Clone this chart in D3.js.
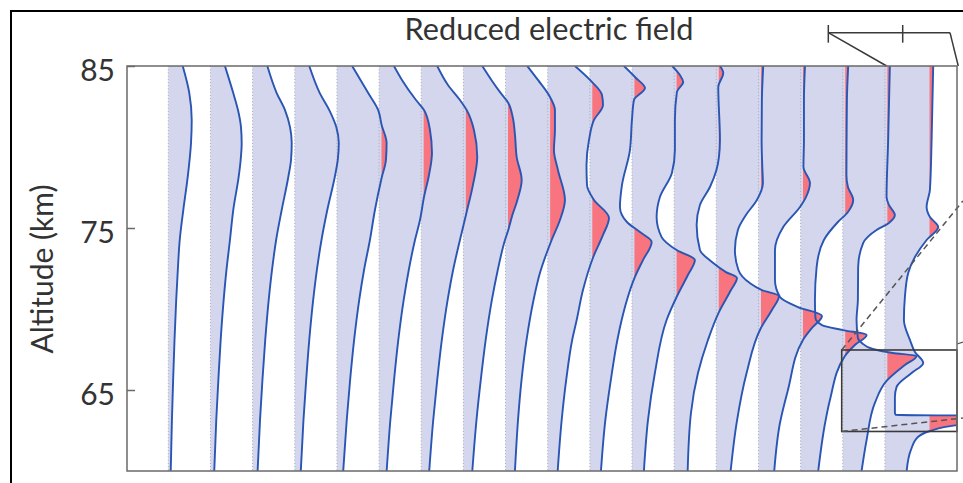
<!DOCTYPE html>
<html><head><meta charset="utf-8">
<script src="https://cdn.jsdelivr.net/npm/d3@7"></script>
<style>body{margin:0;background:#fff;} svg{display:block;}</style>
</head><body>
<svg id="chart" width="963" height="483"></svg>
<script>
// ---------------- data ----------------
const titleText = "Reduced electric field";
const yLabelText = "Altitude (km)";
const yTickValues = [65, 75, 85];
const altitudeDomain = [60, 85];
const breakdownField = 1;          // E / Ek  (red where exceeded)

// each profile: [altitude (km), reduced field E/Ek], one profile per time step
const profile00 = [[85,0.323],[83.33,0.471],[81.67,0.525],[80.25,0.509],[78.15,0.435],[76.11,0.336],[74.26,0.256],[72.41,0.213],[70.56,0.177],[68.09,0.139],[65.62,0.108],[63.15,0.081],[60,0.054]];
const profile01 = [[85,0.325],[83.33,0.511],[82.28,0.617],[81.23,0.684],[80.25,0.700],[79.20,0.677],[78.15,0.632],[76.11,0.511],[74.26,0.437],[72.41,0.359],[70.56,0.296],[68.09,0.229],[65.62,0.177],[63.15,0.130],[60,0.085]];
const profile02 = [[85,0.330],[83.33,0.540],[82.28,0.726],[81.23,0.839],[80.25,0.877],[79.20,0.861],[78.15,0.800],[76.11,0.652],[74.26,0.527],[72.41,0.435],[70.56,0.361],[68.09,0.283],[65.62,0.220],[63.15,0.166],[60,0.112]];
const profile03 = [[85,0.325],[83.33,0.561],[82.28,0.774],[81.23,0.931],[80.25,0.987],[79.20,0.964],[78.15,0.897],[76.11,0.729],[74.26,0.599],[72.41,0.496],[70.56,0.413],[68.09,0.325],[65.62,0.256],[63.15,0.195],[60,0.135]];
const profile04 = [[85,0.343],[83.33,0.702],[82.28,0.926],[81.36,1.002],[80.25,1.114],[79.20,1.099],[78.09,1.002],[76.11,0.852],[74.26,0.740],[72.41,0.608],[70.56,0.500],[68.09,0.386],[65.62,0.296],[63.15,0.220],[60,0.141]];
const profile05 = [[85,0.334],[84.14,0.513],[82.90,0.827],[82.28,1.007],[81.05,1.141],[79.63,1.186],[78.27,1.119],[76.91,1.007],[75.49,0.917],[74.26,0.805],[72.41,0.666],[70.56,0.552],[68.09,0.431],[65.62,0.336],[63.15,0.253],[60,0.170]];
const profile06 = [[85,0.359],[83.83,0.599],[82.90,0.868],[82.28,1.018],[81.05,1.182],[79.38,1.256],[77.65,1.159],[75.93,1.013],[74.26,0.868],[72.41,0.715],[70.56,0.592],[68.09,0.462],[65.62,0.359],[63.15,0.269],[60,0.179]];
const profile07 = [[85,0.424],[84.14,0.628],[83.40,0.818],[82.72,1.007],[81.79,1.110],[80.74,1.157],[79.38,1.195],[77.96,1.307],[76.73,1.211],[75.80,1.099],[74.88,1.007],[74.26,0.933],[72.41,0.771],[70.56,0.639],[68.09,0.500],[65.62,0.390],[63.15,0.294],[60,0.200]];
const profile08 = [[85,0.487],[84.14,0.726],[83.09,0.996],[82.28,1.108],[81.05,1.108],[79.81,1.085],[78.58,1.175],[76.73,1.332],[75.49,1.220],[74.26,1.034],[72.22,0.771],[70.56,0.628],[68.09,0.471],[65.62,0.359],[63.15,0.280],[60,0.211]];
const profile09 = [[85,0.612],[84.14,0.948],[83.21,1.217],[82.59,1.240],[81.67,1.038],[80.43,0.926],[78.89,0.870],[77.65,0.881],[76.73,1.038],[75.62,1.374],[74.57,1.240],[73.21,1.022],[71.17,0.791],[69.32,0.650],[68.09,0.549],[65.62,0.415],[63.15,0.314],[60,0.224]];
const profile10 = [[85,0.765],[84.26,1.034],[83.64,1.235],[82.90,0.989],[81.67,0.944],[79.81,0.899],[77.65,0.720],[76.30,0.675],[75.37,0.832],[74.75,1.123],[74.14,1.386],[73.02,1.191],[71.98,1.011],[70.56,0.832],[69.32,0.713],[68.09,0.617],[65.62,0.471],[63.15,0.348],[60,0.249]];
const profile11 = [[85,0.901],[84.44,1.074],[84.01,1.148],[83.40,1.007],[81.67,0.962],[79.81,0.962],[78.40,0.895],[76.91,0.626],[75.68,0.552],[74.44,0.664],[73.64,1.000],[73.02,1.410],[72.10,1.253],[70.74,1.000],[69.32,0.776],[66.05,0.513],[63.15,0.359],[60,0.267]];
const profile12 = [[85,1.027],[84.57,1.101],[83.70,0.989],[80.43,1.027],[79.38,1.004],[78.58,0.948],[77.53,0.803],[76.42,0.578],[75.19,0.504],[73.64,0.578],[72.90,0.848],[72.28,1.161],[71.91,1.408],[71.17,1.274],[69.81,1.004],[68.09,0.758],[66.05,0.534],[63.58,0.377],[60,0.303]];
const profile13 = [[85,1.052],[82.90,1.022],[80.43,1.016],[78.58,1.034],[77.78,1.045],[76.73,0.910],[75.80,0.664],[74.88,0.484],[73.64,0.417],[72.41,0.496],[71.60,0.753],[71.17,1.022],[70.80,1.404],[69.94,1.247],[68.83,1.000],[66.05,0.679],[62.96,0.455],[60,0.321]];
const profile14 = [[85,1.043],[82.90,1.020],[80.43,1.020],[78.77,1.009],[77.78,1.155],[76.91,1.065],[76.30,0.931],[75.06,0.556],[73.64,0.370],[71.79,0.370],[70.74,0.482],[70.12,0.886],[69.57,1.424],[68.83,1.200],[68.09,0.998],[65.00,0.661],[62.96,0.482],[60,0.354]];
const profile15 = [[85,1.067],[82.90,1.038],[80.43,1.031],[78.27,1.027],[77.53,1.061],[76.73,1.179],[75.99,1.061],[75.37,0.836],[74.26,0.522],[72.59,0.359],[70.56,0.321],[69.44,0.332],[69.01,0.478],[68.70,0.948],[68.40,1.480],[67.78,1.217],[67.10,0.993],[64.38,0.657],[62.96,0.549],[60,0.395]];
const profile16 = [[85,1.056],[80.43,1.018],[76.91,0.982],[76.42,1.034],[75.80,1.168],[75.31,1.034],[74.88,0.758],[74.07,0.457],[72.59,0.345],[70.56,0.339],[69.32,0.309],[68.21,0.339],[67.90,0.428],[67.53,0.673],[67.28,1.121],[67.10,1.655],[66.54,1.392],[65.56,0.982],[64.20,0.720],[61.91,0.534],[60,0.422]];
const profile17 = [[85,1.083],[80.43,1.047],[77.35,1.009],[76.30,0.935],[75.68,1.009],[75.06,1.195],[74.26,0.935],[73.21,0.673],[72.22,0.522],[70.74,0.448],[69.32,0.426],[68.09,0.561],[67.35,0.673],[66.67,0.859],[66.05,0.599],[65.19,0.262],[64.57,0.224],[63.58,0.224],[63.46,0.247],[63.40,3.14],[62.96,3.14],[62.84,1.637],[62.47,1.009],[62.10,0.740],[61.30,0.583],[60,0.487]];
const profiles = [profile00,profile01,profile02,profile03,profile04,profile05,profile06,profile07,profile08,
                  profile09,profile10,profile11,profile12,profile13,profile14,profile15,profile16,profile17];

// annotations in data units: [time-step position, altitude]
const insetBox = [[15.975, 67.47], [18.71, 62.44]];
const insetLinkUpper = [[15.975, 67.47], [18.85, 76.67]];
const insetLinkLower = [[15.975, 62.44], [18.85, 63.27]];
const edgeMark = [[18.71, 67.84], [18.85, 67.96]];
const scaleBar = [[15.657, 87.06], [18.544, 87.06]];
const scaleBarTicks = [15.657, 17.422];
const scaleBarTickAlt = [86.44, 87.53];
const scaleLinkLeft = [[15.657, 87.06], [17.042, 85]];
const scaleLinkRight = [[18.544, 87.06], [18.74, 85]];

// ---------------- layout ----------------
const plot = {left: 127, right: 957, top: 66, bottom: 471};
const colors = {fill: "#d3d6ec", red: "#f8747f", line: "#2955b3", frame: "#6a6a6a", text: "#333333"};
const svg = d3.select("#chart");
const font = "Lato, 'Open Sans', sans-serif";

const y = d3.scaleLinear().domain(altitudeDomain).range([plot.bottom, plot.top]);
const x = d3.scaleLinear().domain([-0.98, 18.71]).range([plot.left, plot.right]);
const e = d3.scaleLinear().domain([0, 1]).range([0, 44.6]);

const defs = svg.append("defs");
defs.append("clipPath").attr("id", "plotClip").append("rect")
  .attr("x", plot.left).attr("y", plot.top)
  .attr("width", plot.right - plot.left).attr("height", plot.bottom - plot.top);
profiles.forEach((p, i) => {
  defs.append("clipPath").attr("id", "red" + i).append("rect")
    .attr("x", x(i) + e(breakdownField)).attr("y", plot.top - 5)
    .attr("width", 2000).attr("height", plot.bottom - plot.top + 10);
});

const data = profiles.map(p => p.slice().sort((a, b) => b[0] - a[0]));
const areaGen = i => d3.area().curve(d3.curveMonotoneY)
  .y(d => y(d[0])).x0(x(i)).x1(d => x(i) + e(d[1]));
const lineGen = i => d3.line().curve(d3.curveMonotoneY)
  .y(d => y(d[0])).x(d => x(i) + e(d[1]));

// outer figure frame (cropped)
svg.append("line").attr("x1", 11).attr("x2", 11).attr("y1", 10).attr("y2", 490)
  .attr("stroke", "#000").attr("stroke-width", 2);
svg.append("line").attr("x1", 10).attr("x2", 970).attr("y1", 11).attr("y2", 11)
  .attr("stroke", "#000").attr("stroke-width", 2);

const g = svg.append("g").attr("clip-path", "url(#plotClip)");

g.append("g").selectAll("path").data(data).join("path")
  .attr("d", (d, i) => areaGen(i)(d)).attr("fill", colors.fill);

g.append("g").selectAll("line").data(data).join("line")
  .attr("x1", (d, i) => x(i)).attr("x2", (d, i) => x(i))
  .attr("y1", plot.top).attr("y2", plot.bottom)
  .attr("stroke", "#b0b0bc").attr("stroke-width", 1).attr("stroke-dasharray", "1.2,2");

g.append("g").selectAll("path").data(data).join("path")
  .attr("clip-path", (d, i) => `url(#red${i})`)
  .attr("d", (d, i) => areaGen(i)(d)).attr("fill", colors.red);

g.append("g").selectAll("path").data(data).join("path")
  .attr("d", (d, i) => lineGen(i)(d)).attr("fill", "none")
  .attr("stroke", colors.line).attr("stroke-width", 1.9).attr("stroke-linejoin", "round");

// inset box and links
const ann = svg.append("g").attr("fill", "none");
ann.append("rect")
  .attr("x", x(insetBox[0][0])).attr("y", y(insetBox[0][1]))
  .attr("width", x(insetBox[1][0]) - x(insetBox[0][0]))
  .attr("height", y(insetBox[1][1]) - y(insetBox[0][1]))
  .attr("stroke", "#3a3a3a").attr("stroke-width", 1.6);
const segLine = d3.line().x(d => x(d[0])).y(d => y(d[1]));
[insetLinkUpper, insetLinkLower].forEach(s => {
  ann.append("path").attr("d", segLine(s)).attr("stroke", "#555")
    .attr("stroke-width", 1.5).attr("stroke-dasharray", "6,4");
});
ann.append("path").attr("d", segLine(edgeMark)).attr("stroke", "#555").attr("stroke-width", 1.2);

// frame
svg.append("rect").attr("x", plot.left).attr("y", plot.top)
  .attr("width", plot.right - plot.left).attr("height", plot.bottom - plot.top)
  .attr("fill", "none").attr("stroke", colors.frame).attr("stroke-width", 1.5);

// scale bar top right
[scaleBar, scaleLinkLeft, scaleLinkRight].forEach(s => {
  ann.append("path").attr("d", segLine(s)).attr("stroke", "#3a3a3a").attr("stroke-width", 1.5);
});
scaleBarTicks.forEach(t => {
  ann.append("line").attr("x1", x(t)).attr("x2", x(t))
    .attr("y1", y(scaleBarTickAlt[0])).attr("y2", y(scaleBarTickAlt[1]))
    .attr("stroke", "#3a3a3a").attr("stroke-width", 1.5);
});

// y axis
const axis = d3.axisLeft(y).tickValues(yTickValues).tickSize(-8).tickPadding(12).tickFormat(d3.format("d"));
const ag = svg.append("g").attr("transform", `translate(${plot.left},0)`).call(axis);
ag.select(".domain").remove();
ag.selectAll(".tick line").attr("stroke", colors.frame).attr("stroke-width", 1.5);
ag.selectAll(".tick text").attr("font-family", font).attr("font-size", 30)
  .attr("fill", colors.text).attr("dy", "0.48em");

// labels
svg.append("text").attr("x", 549).attr("y", 40).attr("text-anchor", "middle")
  .attr("font-family", font).attr("font-size", 30.7).attr("fill", colors.text).text(titleText);
svg.append("text").attr("transform", "translate(53,269) rotate(-90)").attr("text-anchor", "middle")
  .attr("font-family", font).attr("font-size", 30).attr("fill", colors.text).text(yLabelText);
</script>
</body></html>
